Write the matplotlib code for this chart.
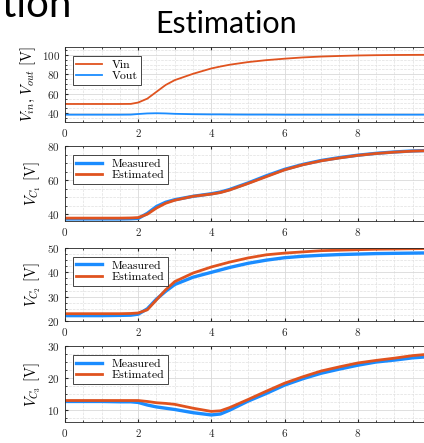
import matplotlib
matplotlib.use("Agg")
import matplotlib.pyplot as plt
import numpy as np
from matplotlib.ticker import AutoMinorLocator, MultipleLocator

plt.rcParams['font.family'] = 'cmr10'
plt.rcParams['mathtext.fontset'] = 'cm'
plt.rcParams['axes.unicode_minus'] = False
plt.rcParams['axes.formatter.use_mathtext'] = True

# tiempo [s]
t = [0, 0.5, 1, 1.5, 1.8, 2.0, 2.25, 2.5, 2.75, 3.0, 3.5, 4.0, 4.25, 4.5, 5.0, 5.5,
     6.0, 6.5, 7.0, 7.5, 8.0, 8.5, 9.0, 9.5, 10.0]

# panel 1: Vin / Vout
vin = [49.5, 49.5, 49.5, 49.5, 49.6, 51, 55, 62, 69, 74, 80.5, 86, 88, 89.8, 92.5, 94.5,
       96, 97.3, 98.2, 98.8, 99.3, 99.6, 99.8, 99.9, 100]
vout = [38.5, 38.5, 38.5, 38.5, 38.6, 39.2, 39.8, 40, 39.8, 39.4, 39, 38.8, 38.8, 38.7, 38.6, 38.6,
        38.5, 38.5, 38.5, 38.5, 38.5, 38.5, 38.5, 38.5, 38.5]

# panel 2: VC1
vc1_med = [37.2, 37.2, 37.2, 37.2, 37.3, 37.5, 40.5, 44.5, 47, 48.5, 50.5, 52, 53, 54.5, 58.3, 62.5,
           66.3, 69.2, 71.5, 73.2, 74.6, 75.7, 76.5, 77.1, 77.4]
vc1_est = [37.7, 37.7, 37.7, 37.7, 37.8, 38, 40, 43.6, 46.4, 48.2, 50.5, 51.8, 52.7, 54.2, 58, 62,
           66, 69, 71.3, 73, 74.5, 75.6, 76.4, 77, 77.3]

# panel 3: VC2
vc2_med = [22.2, 22.2, 22.2, 22.3, 22.4, 22.8, 25, 29, 32.2, 35, 38, 40, 41, 42, 43.7, 45,
           46, 46.6, 47, 47.3, 47.5, 47.7, 47.8, 47.9, 48]
vc2_est = [23, 23, 23, 23, 23.1, 23.3, 24.6, 28.7, 32.8, 36.2, 39.7, 42.2, 43.2, 44.2, 45.9, 47.2,
           47.9, 48.4, 48.9, 49.1, 49.3, 49.5, 49.6, 49.7, 49.8]

# panel 4: VC3
vc3_med = [12.7, 12.7, 12.7, 12.6, 12.6, 12.4, 11.6, 11, 10.6, 10.2, 9.2, 8.5, 8.8, 10, 12.8, 15.2,
           17.8, 19.8, 21.5, 22.8, 24, 25, 25.6, 26.3, 26.7]
vc3_est = [13, 13, 13, 13, 13, 13, 12.7, 12.3, 12.1, 11.8, 10.6, 9.6, 9.8, 10.8, 13.3, 15.9,
           18.4, 20.4, 22.2, 23.5, 24.7, 25.5, 26.2, 27, 27.5]

azul = '#1a8cff'
naranja = '#e0531f'

fig = plt.figure(figsize=(4.24, 4.43), dpi=100)

# titulo estilo diapositiva
fig.text(0.533, 0.925, 'Estimation', fontsize=22, family='Lato', ha='center', va='baseline')
fig.text(0.17, 0.962, 'Estimation', fontsize=29, family='Lato', ha='right', va='baseline')

posiciones = [[0.1533, 0.7246, 0.863, 0.1693],
              [0.1533, 0.5011, 0.863, 0.1693],
              [0.1533, 0.2754, 0.863, 0.1648],
              [0.1533, 0.0474, 0.863, 0.1716]]
ylims = [(31, 108), (36, 80), (20, 50), (6.3, 30)]
yticks = [[40, 60, 80, 100], [40, 60, 80], [20, 30, 40, 50], [10, 20, 30]]
ylabels = [r'$V_{in},\, V_{out}$ [V]', r'$V_{C_1}$ [V]', r'$V_{C_2}$ [V]', r'$V_{C_3}$ [V]']
series = [(vin, vout, 'Vin', 'Vout'),
          (vc1_med, vc1_est, 'Measured', 'Estimated'),
          (vc2_med, vc2_est, 'Measured', 'Estimated'),
          (vc3_med, vc3_est, 'Measured', 'Estimated')]

for i in range(4):
    ax = fig.add_axes(posiciones[i])
    a, b, la, lb = series[i]
    if i == 0:
        ax.plot(t, a, color=naranja, lw=1.3, label=la)
        ax.plot(t, b, color=azul, lw=1.3, label=lb)
    else:
        ax.plot(t, a, color=azul, lw=2.4, label=la)
        ax.plot(t, b, color=naranja, lw=2.0, label=lb)
    ax.set_xlim(0, 10)
    ax.set_ylim(*ylims[i])
    ax.set_xticks([0, 2, 4, 6, 8])
    ax.set_yticks(yticks[i])
    ax.xaxis.set_minor_locator(MultipleLocator(0.5))
    ax.yaxis.set_minor_locator(AutoMinorLocator(4))
    ax.grid(True, which='major', color='#d9d9d9', lw=0.6)
    ax.grid(True, which='minor', color='#e0e0e0', lw=0.5, ls='--')
    ax.set_axisbelow(True)
    ax.tick_params(which='both', direction='in', top=True, right=True, labelsize=8,
                   colors='#262626', length=2.5)
    ax.tick_params(which='minor', length=1.5)
    for s in ax.spines.values():
        s.set_color('#262626')
        s.set_linewidth(0.6)
    ax.set_ylabel(ylabels[i], fontsize=10.5, labelpad=3)
    leg = ax.legend(loc='upper left', fontsize=8.5, fancybox=False, framealpha=1,
                    edgecolor='#262626', handlelength=2.2, borderpad=0.3,
                    labelspacing=0.1, bbox_to_anchor=(0.005, 0.96))
    leg.get_frame().set_linewidth(0.6)
    if i == 3:
        ax.set_xlabel('Time [s]', fontsize=9.5, labelpad=3)

fig.savefig('out.png', dpi=100)
